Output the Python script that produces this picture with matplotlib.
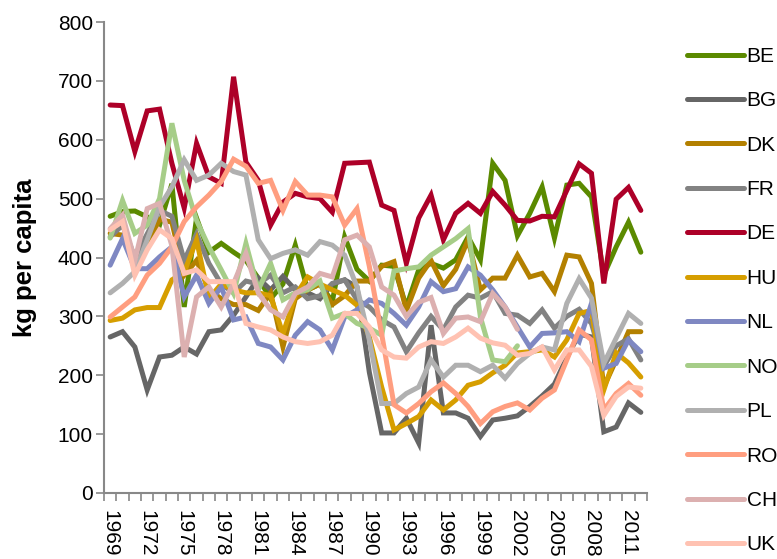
import numpy as np
import matplotlib
matplotlib.use('Agg')
import matplotlib.pyplot as plt

plt.rcParams['font.family'] = ['Liberation Sans', 'DejaVu Sans']

years = list(range(1969, 2013))
nan = np.nan

# kg per capita, 1969-2012
BE = [470, 478, 479, 469, 455, 525, 316, 467, 409, 424,
      409, 395, 365, 330, 355, 421, 345, 355, 325, 435,
      380, 360, 387, 385, 316, 379, 390, 382, 396, 435,
      396, 560, 531, 437, 475, 520, 433, 523, 526, 503,
      370, 418, 460, 409]
BG = [265, 274, 248, 175, 231, 234, 248, 236, 274, 277,
      302, 333, 365, 345, 368, 345, 340, 330, 355, 362,
      350, 205, 102, 102, 127, 85, 285, 136, 136, 127,
      96, 124, 127, 131, 147, 165, 185, 230, 270, 265,
      104, 112, 153, 137]
DK = [441, 438, 390, 420, 465, 460, 370, 395, 345, 330,
      320, 320, 310, 340, 248, 330, 345, 355, 320, 335,
      360, 360, 385, 393, 310, 365, 395, 352, 380, 430,
      345, 365, 365, 404, 367, 373, 342, 404, 401, 356,
      180, 226, 274, 274]
FR = [435, 455, 400, 440, 480, 470, 395, 440, 390, 355,
      340, 360, 355, 370, 340, 350, 330, 335, 356, 362,
      328, 316, 294, 282, 240, 272, 300, 277, 316, 336,
      331, 342, 305, 302, 288, 311, 280, 300, 312, 288,
      215, 250, 262, 226]
DE = [659, 658, 580, 649, 652, 560, 484, 594, 537, 526,
      707, 562, 531, 455, 494, 509, 503, 500, 477, 560,
      561, 562, 489, 480, 390, 467, 506, 430, 475, 492,
      475, 512, 489, 463, 462, 470, 469, 514, 559, 543,
      356, 499, 519, 480]
HU = [293, 297, 311, 315, 315, 362, 375, 430, 330, 355,
      345, 340, 340, 335, 270, 335, 367, 355, 345, 336,
      319, 265, 180, 107, 118, 130, 158, 141, 158, 183,
      189, 204, 217, 238, 240, 243, 231, 260, 305, 310,
      175, 238, 221, 197]
NL = [387, 432, 381, 381, 401, 418, 333, 370, 322, 350,
      294, 299, 254, 248, 226, 268, 291, 277, 243, 299,
      311, 328, 322, 305, 285, 316, 359, 342, 347, 384,
      370, 345, 316, 282, 248, 271, 272, 274, 257, 322,
      212, 220, 260, 240]
NO = [433, 497, 441, 455, 500, 628, 531, 463, 418, 379,
      339, 424, 345, 390, 328, 340, 345, 360, 297, 305,
      288, 280, 268, 377, 381, 384, 404, 418, 432, 449,
      299, 226, 223, 250, nan, nan, nan, nan, nan, nan,
      nan, nan, nan, nan]
PL = [340, 356, 376, 430, 486, 520, 566, 531, 540, 560,
      546, 540, 430, 398, 407, 413, 404, 427, 421, 404,
      350, 260, 152, 152, 169, 180, 226, 197, 217, 217,
      206, 217, 195, 220, 237, 248, 243, 322, 364, 331,
      220, 263, 305, 288]
RO = [299, 316, 333, 370, 390, 418, 461, 486, 506, 529,
      567, 555, 526, 531, 480, 529, 506, 506, 503, 455,
      483, 385, 270, 150, 136, 152, 172, 187, 169, 147,
      118, 138, 147, 153, 141, 161, 175, 226, 277, 260,
      141, 169, 186, 166]
CH = [449, 472, 395, 483, 492, 420, 231, 333, 350, 316,
      356, 407, 340, 311, 299, 339, 350, 373, 367, 430,
      438, 418, 350, 336, 300, 324, 332, 271, 297, 299,
      291, 339, 316, 278, nan, nan, nan, nan, nan, nan,
      nan, nan, nan, nan]
UK = [447, 461, 370, 413, 447, 432, 373, 379, 359, 359,
      359, 288, 282, 277, 265, 257, 254, 257, 268, 305,
      305, 282, 243, 231, 229, 248, 257, 254, 265, 280,
      263, 255, 251, 234, 237, 248, 209, 243, 243, 215,
      132, 164, 180, 178]

series = [('BE', BE, '#5b8a00'), ('BG', BG, '#666666'), ('DK', DK, '#b38000'),
          ('FR', FR, '#828282'), ('DE', DE, '#ad0028'), ('HU', HU, '#d69e00'),
          ('NL', NL, '#7f88c2'), ('NO', NO, '#a6cd88'), ('PL', PL, '#b0b0b0'),
          ('RO', RO, '#ff9e80'), ('CH', CH, '#dcb0b0'), ('UK', UK, '#ffc2b2')]

fig = plt.figure(figsize=(7.77, 5.59), dpi=100)
ax = fig.add_axes([104 / 777, 1 - 493 / 559, 543 / 777, 471 / 559])

x = np.arange(len(years))
for name, vals, col in series:
    ax.plot(x, vals, color=col, lw=3.6, label=name, solid_joinstyle='miter',
            solid_capstyle='round')

ax.set_xlim(-0.5, len(years) - 0.5)
ax.set_ylim(0, 800)
ax.set_yticks(range(0, 801, 100))
ax.set_xticks(x[::3])
ax.set_xticklabels([str(y) for y in years[::3]], rotation=-90, fontsize=15)
ax.set_xticks(np.arange(-0.5, len(years)), minor=True)
ax.tick_params(axis='x', which='major', length=0, pad=12)
ax.tick_params(axis='x', which='minor', length=6, width=1.2, color='#888888')
ax.tick_params(axis='y', length=6, width=1.2, color='#888888', labelsize=15, pad=2)

for s in ['top', 'right']:
    ax.spines[s].set_visible(False)
for s in ['left', 'bottom']:
    ax.spines[s].set_color('#888888')
    ax.spines[s].set_linewidth(1.5)

ax.set_ylabel('kg per capita', fontsize=18.5, fontweight='bold', labelpad=15)

leg = ax.legend(loc='upper left', bbox_to_anchor=(1.058, 0.965), frameon=False,
                fontsize=15, handlelength=2.75, handletextpad=0.12, labelspacing=1.22,
                borderaxespad=0)

fig.savefig('out.png', dpi=100)
